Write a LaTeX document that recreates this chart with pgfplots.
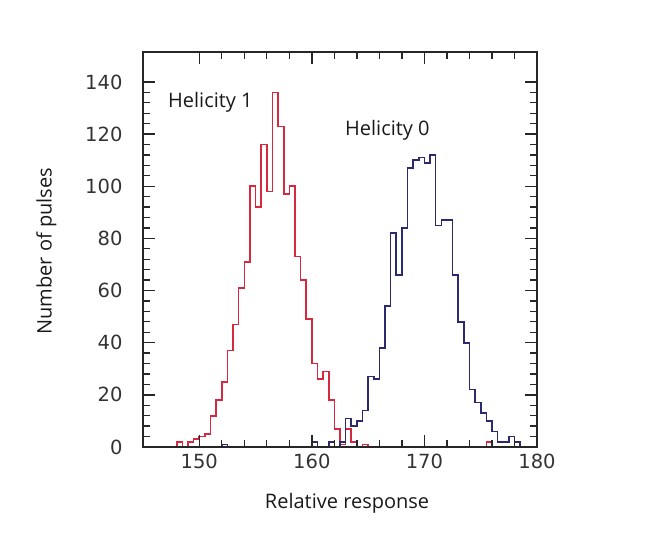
\documentclass[border=0pt]{standalone}
\usepackage{pgfplots}
\pgfplotsset{compat=1.18}
\usepackage{fontspec}
\setmainfont{Open Sans}
\newfontfamily\tickfont{DejaVu Sans}
\definecolor{histred}{RGB}{214,40,62}
\definecolor{histblue}{RGB}{42,42,108}
\begin{document}
\begin{tikzpicture}
\useasboundingbox (0,0) rectangle (654pt,554pt);
\begin{axis}[
  at={(143pt,107pt)}, anchor=south west,
  width=394pt, height=395pt, scale only axis,
  xmin=145, xmax=180, ymin=0, ymax=151.5,
  xtick={150,160,170,180}, minor x tick num=4,
  ytick={0,20,...,140}, minor y tick num=4,
  tick align=inside,
  major tick length=12pt, minor tick length=7pt,
  axis line style={line width=1.8pt, black!85},
  every tick/.style={line width=1.3pt, black!85},
  /pgf/number format/assume math mode=true,
  tick label style={font=\tickfont\fontsize{19.5}{19.5}\selectfont, color=black!80},
  xticklabel style={yshift=-3pt},
  yticklabel style={xshift=-17pt},
  xlabel={Relative response},
  ylabel={Number of pulses},
  label style={font=\fontsize{20}{20}\selectfont, color=black!90},
  xlabel style={at={(axis description cs:0.518,-0.156)}, anchor=base},
  ylabel style={at={(axis description cs:-0.245,0.496)}, anchor=center},
  axis on top,
  clip=true,
]
\addplot[const plot mark left, histred, line width=1.6pt] coordinates {
(147.5,0) (148,2) (148.5,0) (149,2) (149.5,3) (150,4) (150.5,5) (151,12) (151.5,18)
(152,25) (152.5,37) (153,47) (153.5,61) (154,71) (154.5,100) (155,92) (155.5,116)
(156,98) (156.5,136) (157,123) (157.5,97) (158,100) (158.5,73) (159,64) (159.5,49)
(160,32) (160.5,26) (161,29) (161.5,18) (162,7) (162.5,1) (163,7) (163.5,2) (164,0)
(164.5,1) (165,0) (175.5,2) (176,0)
};
\addplot[const plot mark left, histblue, line width=1.6pt] coordinates {
(151.5,0) (152,1) (152.5,0) (160,2) (160.5,0) (161.5,2) (162,0) (162.5,2) (163,11)
(163.5,8) (164,10) (164.5,14) (165,27) (165.5,26) (166,38) (166.5,54) (167,82)
(167.5,66) (168,84) (168.5,107) (169,110) (169.5,111) (170,109) (170.5,112) (171,85)
(171.5,87) (172,87) (172.5,66) (173,48) (173.5,40) (174,22) (174.5,17) (175,13)
(175.5,10) (176,6) (176.5,2) (177,2) (177.5,4) (178,2) (178.5,0)
};
\node[anchor=base west, inner sep=0pt, font=\fontsize{20}{20}\selectfont, color=black!90] at (axis cs:147.22,130.4) {Helicity 1};
\node[anchor=base west, inner sep=0pt, font=\fontsize{20}{20}\selectfont, color=black!90] at (axis cs:162.94,119.6) {Helicity 0};
\end{axis}
\end{tikzpicture}
\end{document}
